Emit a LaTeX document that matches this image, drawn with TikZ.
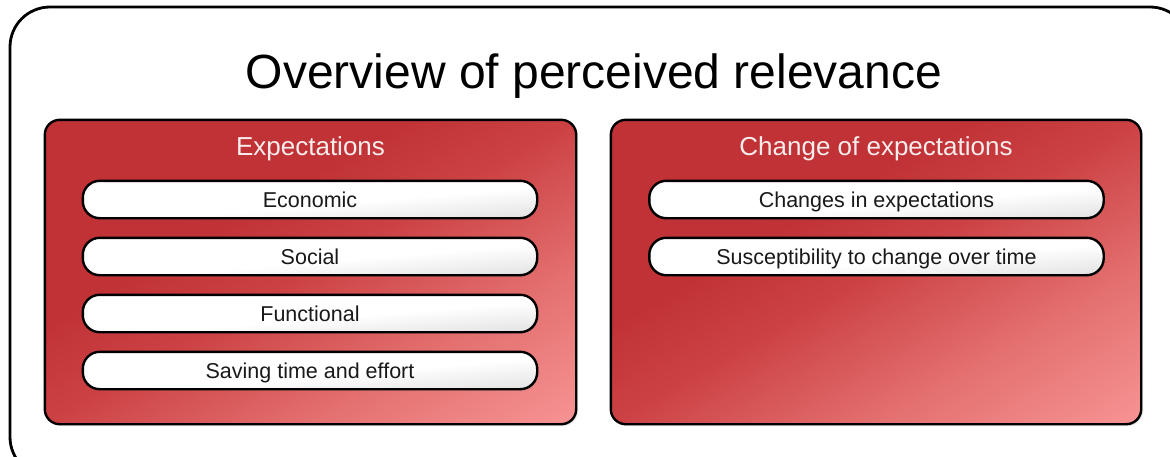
\documentclass[tikz,border=0pt]{standalone}
\usepackage{fontspec}
\setmainfont{Liberation Sans}
\usetikzlibrary{shadows}
\definecolor{reddark}{RGB}{192,50,54}
\definecolor{redmid}{RGB}{204,66,68}
\definecolor{redmid2}{RGB}{228,112,112}
\definecolor{redlight}{RGB}{247,148,148}
\definecolor{bargray}{RGB}{226,226,226}
\definecolor{titlewhite}{RGB}{248,236,236}
\pgfdeclarehorizontalshading{redgrad}{100bp}{color(0bp)=(reddark); color(25bp)=(reddark); color(42bp)=(reddark); color(50bp)=(redmid); color(62.5bp)=(redmid2); color(75bp)=(redlight); color(100bp)=(redlight)}
\pgfdeclarehorizontalshading{bargrad}{100bp}{color(0bp)=(white); color(25bp)=(white); color(54bp)=(white); color(75bp)=(bargray); color(100bp)=(bargray)}
\tikzset{
  frame/.style={draw=black, line width=2.8pt, rounded corners=40pt, fill=white, inner sep=0pt},
  panel/.style={fill=reddark, inner sep=0pt, rounded corners=15pt,
    drop shadow={opacity=0.18, shadow xshift=2pt, shadow yshift=-2pt}},
  bar/.style={fill=white, inner sep=0pt, rounded corners=17pt, minimum width=454pt, minimum height=37pt,
    drop shadow={opacity=0.2, shadow xshift=1.5pt, shadow yshift=-1.5pt}},
  outline/.style={draw=black, line width=2.4pt},
  bigtitle/.style={font=\fontsize{48}{56}\selectfont, anchor=base, inner sep=0pt},
  paneltitle/.style={font=\fontsize{26}{30}\selectfont, text=titlewhite, anchor=base, inner sep=0pt},
  bartext/.style={font=\fontsize{21.5}{25}\selectfont, text=black!90, anchor=base, inner sep=0pt},
}
% #1 node, #2 shading, #3 half width, #4 half height, #5 corner radius
\newcommand\diagfill[5]{%
  \begin{scope}
    \clip[rounded corners=#5] (#1.south west) rectangle (#1.north east);
    \begin{scope}[transform canvas={shift={(#1.center)}, cm={#3,-#4,#3,#4,(0,0)}}]
      \shade[shading=#2] (-1pt,-1.6pt) rectangle (1pt,1.6pt);
    \end{scope}
  \end{scope}
  \draw[outline, rounded corners=#5] (#1.south west) rectangle (#1.north east);
}
\begin{document}
\begin{tikzpicture}[x=1pt, y=-1pt]
\useasboundingbox (0,0) rectangle (1170,456);
\begin{scope}
\clip (0,0) rectangle (1170,456);
\node[frame, minimum width=1180pt, minimum height=470pt] (frame) at (600,242) {};
\end{scope}
\node[bigtitle] (title) at (594,88) {Overview of perceived relevance};

\node[panel, minimum width=531pt, minimum height=304pt] (left) at (310.5,272) {};
\diagfill{left}{redgrad}{265.5}{152}{15pt}
\node[panel, minimum width=530pt, minimum height=304pt] (right) at (876,272) {};
\diagfill{right}{redgrad}{265}{152}{15pt}

\node[paneltitle] (lt) at (310.5,155) {Expectations};
\node[paneltitle] (rt) at (876,155) {Change of expectations};

\node[bar] (b1) at (310,199.5) {};
\diagfill{b1}{bargrad}{227}{18.5}{17pt}
\node[bar] (b2) at (310,256.5) {};
\diagfill{b2}{bargrad}{227}{18.5}{17pt}
\node[bar] (b3) at (310,313.5) {};
\diagfill{b3}{bargrad}{227}{18.5}{17pt}
\node[bar] (b4) at (310,370.5) {};
\diagfill{b4}{bargrad}{227}{18.5}{17pt}
\node[bar] (c1) at (876.5,199.5) {};
\diagfill{c1}{bargrad}{227}{18.5}{17pt}
\node[bar] (c2) at (876.5,256.5) {};
\diagfill{c2}{bargrad}{227}{18.5}{17pt}

\node[bartext] (t1) at (310,207) {Economic};
\node[bartext] (t2) at (310,264) {Social};
\node[bartext] (t3) at (310,321) {Functional};
\node[bartext] (t4) at (310,378) {Saving time and effort};
\node[bartext] (u1) at (876.5,207) {Changes in expectations};
\node[bartext] (u2) at (876.5,264) {Susceptibility to change over time};
\end{tikzpicture}
\end{document}
